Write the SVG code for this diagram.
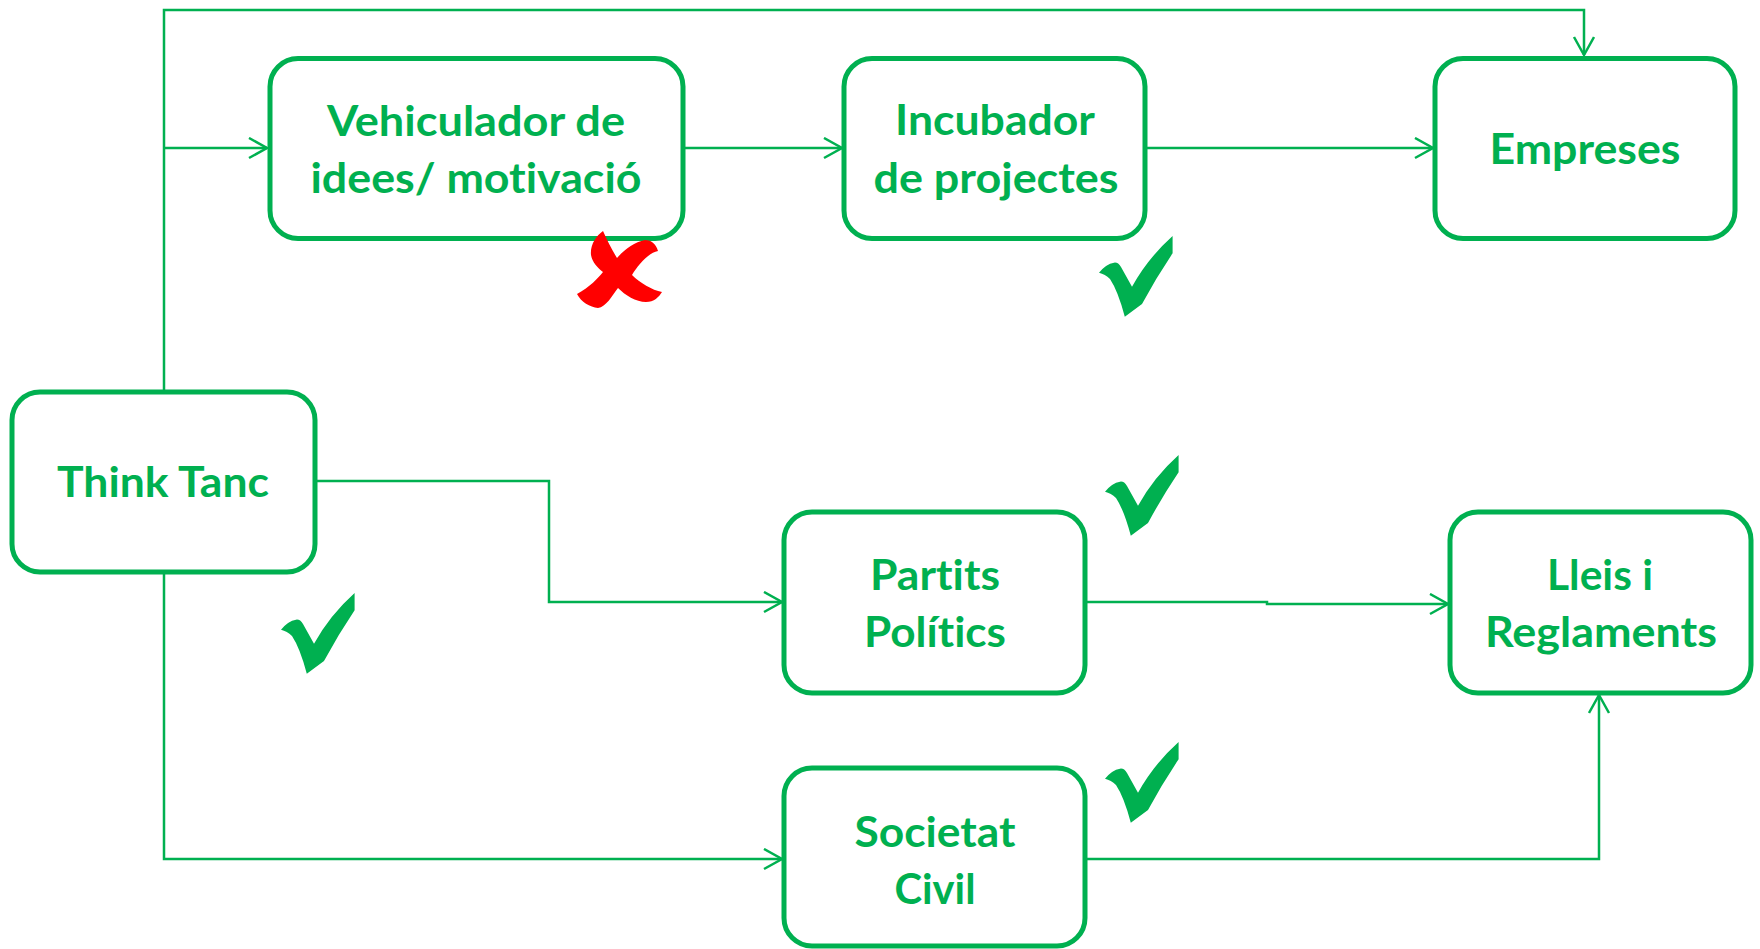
<svg xmlns="http://www.w3.org/2000/svg" xmlns:xlink="http://www.w3.org/1999/xlink" width="1760" height="949" viewBox="0 0 1760 949">
<style>
.box{fill:#fff;stroke:#00B050;stroke-width:5}
.lbl{font-family:Lato,"Open Sans","Liberation Sans",sans-serif;font-weight:bold;font-size:42px;fill:#00B050;text-anchor:middle;font-variant-ligatures:none;font-feature-settings:"liga" 0,"clig" 0}
.con{fill:none;stroke:#00B050;stroke-width:2.5}
.chk{fill:#00B050}
</style>
<defs>
<marker id="arr" markerUnits="userSpaceOnUse" markerWidth="22" markerHeight="24" refX="19" refY="11" orient="auto" viewBox="0 0 22 24">
<path d="M1,1 L19,11 L1,21" fill="none" stroke="#00B050" stroke-width="2.5"/>
</marker>
<path id="chk" d="M74.6,0 L74.6,17.3 Q58,42 44,68 L26.8,80.7 Q20,55 12,43 Q7,38 1,36.7 Q8,28 16,26.7 Q20,26 23,31 Q28,40 34,50.7 Q50,22 74.6,0 Z"/>
</defs>
<rect width="1760" height="949" fill="#fff"/>
<g id="connectors">
<path class="con" d="M164,392 V10 H1584 V55" marker-end="url(#arr)"/>
<path class="con" d="M164,148 H267" marker-end="url(#arr)"/>
<path class="con" d="M683,148 H842" marker-end="url(#arr)"/>
<path class="con" d="M1145,148 H1433" marker-end="url(#arr)"/>
<path class="con" d="M315,481 H549 V602 H782" marker-end="url(#arr)"/>
<path class="con" d="M1085,602 H1267 V604 H1448" marker-end="url(#arr)"/>
<path class="con" d="M164,572 V859 H782" marker-end="url(#arr)"/>
<path class="con" d="M1085,859 H1599 V695" marker-end="url(#arr)"/>
</g>
<g id="vehiculador">
<rect class="box" x="270" y="58.5" width="413" height="180" rx="28"/>
<text class="lbl" x="476" y="136" textLength="298" lengthAdjust="spacingAndGlyphs">Vehiculador de</text>
<text class="lbl" x="476" y="193" textLength="331" lengthAdjust="spacingAndGlyphs">idees/ motivació</text>
</g>
<g id="incubador">
<rect class="box" x="844" y="58.5" width="301" height="180" rx="28"/>
<text class="lbl" x="995" y="135" textLength="200" lengthAdjust="spacingAndGlyphs">Incubador</text>
<text class="lbl" x="996" y="193" textLength="245" lengthAdjust="spacingAndGlyphs">de projectes</text>
</g>
<g id="empreses">
<rect class="box" x="1435" y="58.5" width="300" height="180" rx="28"/>
<text class="lbl" x="1585" y="164" textLength="191" lengthAdjust="spacingAndGlyphs">Empreses</text>
</g>
<g id="think-tanc">
<rect class="box" x="12" y="392" width="303" height="180" rx="28"/>
<text class="lbl" x="163" y="497" textLength="212" lengthAdjust="spacingAndGlyphs">Think Tanc</text>
</g>
<g id="partits">
<rect class="box" x="784" y="512" width="301" height="181" rx="28"/>
<text class="lbl" x="935" y="590" textLength="130" lengthAdjust="spacingAndGlyphs">Partits</text>
<text class="lbl" x="935" y="647" textLength="142" lengthAdjust="spacingAndGlyphs">Polítics</text>
</g>
<g id="lleis">
<rect class="box" x="1450" y="512" width="301" height="181" rx="28"/>
<text class="lbl" x="1600" y="590" textLength="106" lengthAdjust="spacingAndGlyphs">Lleis i</text>
<text class="lbl" x="1601" y="647" textLength="232" lengthAdjust="spacingAndGlyphs">Reglaments</text>
</g>
<g id="societat">
<rect class="box" x="784" y="768" width="301" height="178" rx="28"/>
<text class="lbl" x="935" y="847" textLength="161" lengthAdjust="spacingAndGlyphs">Societat</text>
<text class="lbl" x="935" y="904" textLength="81" lengthAdjust="spacingAndGlyphs">Civil</text>
</g>
<g id="marks">
<path fill="#FF0000" d="M603,231 C596,236 590,245 591,255 C592,262 598,268 603,272 C598,278 590,287 577,294 C581,302 590,307 598,308 C606,307 612,296 618,288 C625,295 636,302 646,302 C654,302 659,297 662,292 C652,290 640,283 632,275 C638,265 648,253 658,251 C656,243 650,240 645,240 C634,242 624,250 617,258 C612,250 607,240 603,231 Z"/>
<use class="chk" xlink:href="#chk" transform="translate(1098,236)"/>
<use class="chk" xlink:href="#chk" transform="translate(1104,455)"/>
<use class="chk" xlink:href="#chk" transform="translate(280,593)"/>
<use class="chk" xlink:href="#chk" transform="translate(1104,742)"/>
</g>
</svg>
